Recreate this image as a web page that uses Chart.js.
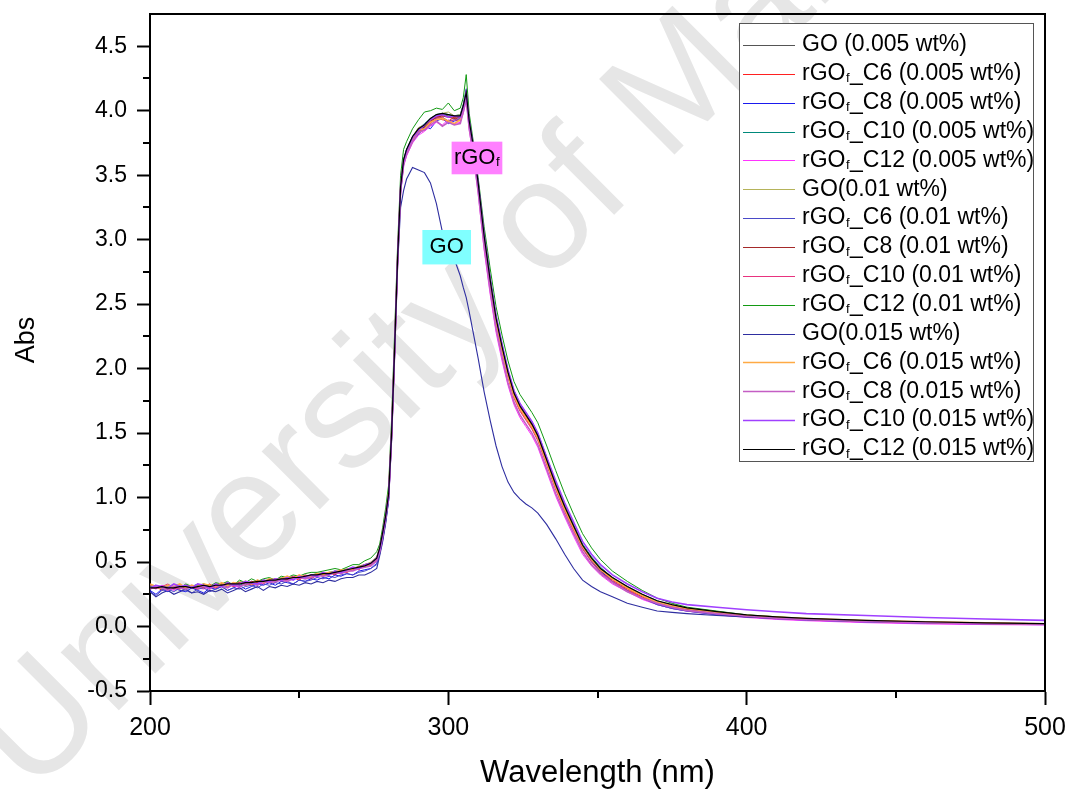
<!DOCTYPE html>
<html><head><meta charset="utf-8">
<script src="https://cdn.jsdelivr.net/npm/chart.js@4.4.1/dist/chart.umd.min.js"></script>
<style>html,body{margin:0;padding:0;background:#fff;}#wrap{width:1070px;height:789px;}</style>
</head><body><div id="wrap"><canvas id="c" width="1070" height="789"></canvas></div>
<script>
// ---------------- DATA ----------------
const WAVELENGTH = [
 200,202,204,206,208,210,212,214,216,218, 220,222,224,226,228,230,232,234,236,238,
 240,242,244,246,248,250,252,254,256,258, 260,262,264,266,268,270,272,274,276,
 277,278,279,280,281,282,283,284,285,286,
 288,290,292,294,296,298,300,302,304,305,306,307,308,309,310,
 312,314,316,318,320,322,324,326,328,330, 333,336,339,342,345,348,351,
 355,360,365,370,375,380, 390,400,410,420, 440,460,480,500];

const GO_005 = [
 .31,.30,.30,.31,.29,.30,.31,.30,.32,.31, .30,.33,.32,.31,.33,.32,.34,.33,.34,.36, .35,.36,.36,.37,.37,.38,.38,.39,.39,.40, .41,.41,.42,.44,.44,.45,.47,.48,.52,
 .60,.71,.86,1.03,1.52,2.17,2.86,3.41,3.61,3.69,
 3.79,3.85,3.88,3.93,3.94,3.97,3.96,3.95,3.96,4.03,4.12,3.91,3.77,3.61,3.43,
 3.03,2.69,2.39,2.17,1.97,1.81,1.71,1.64,1.57,1.48, 1.29,1.10,0.93,0.78,0.63,0.53,0.45, 0.37,0.30,0.24,0.19,0.16,0.135, 0.105,0.085,0.07,0.058, 0.042,0.032,0.025,0.02];
const C6_005 = [
 .29,.31,.28,.30,.31,.29,.32,.30,.29,.31, .33,.30,.32,.34,.31,.33,.35,.32,.34,.33, .36,.37,.35,.36,.38,.36,.39,.37,.40,.39, .42,.40,.43,.42,.45,.44,.48,.47,.51,
 .59,.70,.84,1.00,1.48,2.12,2.83,3.38,3.59,3.67,
 3.76,3.83,3.85,3.90,3.96,3.93,3.92,3.95,3.92,4.00,4.10,3.88,3.74,3.58,3.40,
 3.00,2.66,2.36,2.14,1.94,1.78,1.68,1.61,1.54,1.45, 1.26,1.07,0.90,0.75,0.61,0.51,0.43, 0.36,0.29,0.23,0.18,0.15,0.13, 0.10,0.08,0.065,0.055, 0.04,0.03,0.022,0.018];
const C8_005 = [
 .28,.25,.29,.27,.30,.28,.27,.30,.28,.26, .30,.29,.31,.28,.30,.32,.29,.31,.33,.32, .34,.32,.35,.34,.33,.36,.35,.37,.36,.38, .37,.40,.39,.41,.40,.43,.44,.45,.49,
 .57,.68,.82,0.99,1.46,2.11,2.82,3.37,3.60,3.70,
 3.77,3.82,3.88,3.86,3.92,3.94,3.90,3.92,3.93,4.01,4.15,3.92,3.78,3.62,3.44,
 3.04,2.70,2.40,2.18,1.98,1.82,1.72,1.65,1.57,1.48, 1.29,1.10,0.92,0.77,0.62,0.51,0.43, 0.35,0.28,0.22,0.17,0.14,0.12, 0.095,0.075,0.06,0.05, 0.035,0.025,0.018,0.014];
const C10_005 = [
 .30,.32,.30,.29,.31,.32,.30,.31,.33,.31, .32,.31,.33,.32,.34,.33,.32,.35,.34,.36, .35,.37,.36,.38,.37,.39,.38,.40,.41,.40, .42,.43,.42,.44,.45,.46,.47,.49,.53,
 .61,.73,.87,1.04,1.53,2.18,2.87,3.42,3.62,3.70,
 3.80,3.86,3.90,3.94,3.97,3.98,3.97,3.96,3.97,4.05,4.17,3.93,3.79,3.63,3.45,
 3.05,2.71,2.41,2.19,1.99,1.83,1.73,1.66,1.59,1.50, 1.31,1.12,0.95,0.79,0.64,0.54,0.46, 0.38,0.31,0.25,0.20,0.16,0.14, 0.11,0.085,0.07,0.06, 0.045,0.032,0.024,0.02];
const C12_005 = [
 .31,.29,.32,.30,.28,.31,.29,.32,.30,.29, .31,.30,.34,.31,.32,.30,.34,.33,.35,.33, .36,.34,.37,.36,.38,.37,.38,.40,.38,.41, .40,.42,.41,.43,.44,.45,.46,.48,.52,
 .59,.70,.83,1.00,1.47,2.12,2.82,3.36,3.57,3.65,
 3.75,3.81,3.84,3.88,3.91,3.89,3.93,3.90,3.91,3.98,4.08,3.85,3.70,3.54,3.36,
 2.92,2.58,2.28,2.06,1.87,1.72,1.62,1.55,1.48,1.39, 1.20,1.01,0.85,0.70,0.56,0.47,0.40, 0.33,0.27,0.21,0.17,0.14,0.12, 0.09,0.07,0.055,0.045, 0.03,0.02,0.015,0.012];
const GO_01 = [
 .30,.31,.29,.31,.30,.32,.30,.31,.31,.33, .32,.32,.33,.34,.33,.35,.34,.34,.36,.35, .37,.36,.38,.37,.39,.38,.40,.39,.41,.42, .41,.43,.43,.45,.45,.47,.48,.50,.54,
 .62,.74,.88,1.05,1.54,2.19,2.88,3.43,3.62,3.69,
 3.80,3.87,3.89,3.94,3.96,3.98,3.99,3.96,3.97,4.04,4.14,3.92,3.78,3.62,3.44,
 3.04,2.70,2.40,2.18,1.98,1.82,1.72,1.65,1.58,1.49, 1.30,1.11,0.94,0.78,0.63,0.53,0.45, 0.38,0.30,0.24,0.19,0.16,0.14, 0.11,0.085,0.07,0.06, 0.045,0.035,0.026,0.021];
const C6_01 = [
 .27,.24,.28,.29,.27,.30,.28,.26,.29,.30, .27,.29,.31,.28,.30,.29,.31,.32,.30,.33, .32,.34,.33,.35,.33,.36,.35,.36,.38,.37, .39,.38,.40,.41,.40,.42,.43,.45,.48,
 .56,.67,.81,0.98,1.46,2.10,2.81,3.36,3.58,3.67,
 3.76,3.82,3.86,3.91,3.93,3.95,3.92,3.93,3.94,4.02,4.16,3.91,3.77,3.61,3.43,
 3.03,2.69,2.39,2.17,1.97,1.81,1.71,1.64,1.56,1.47, 1.28,1.09,0.91,0.76,0.61,0.50,0.42, 0.35,0.28,0.22,0.17,0.14,0.12, 0.09,0.075,0.06,0.05, 0.035,0.026,0.02,0.016];
const C8_01 = [
 .30,.30,.31,.29,.30,.31,.30,.32,.31,.30, .32,.31,.33,.32,.33,.34,.33,.35,.34,.35, .36,.35,.37,.37,.38,.38,.39,.39,.40,.41, .41,.42,.43,.44,.45,.46,.48,.49,.53,
 .60,.72,.85,1.02,1.50,2.15,2.85,3.40,3.60,3.68,
 3.78,3.84,3.87,3.92,3.95,3.96,3.95,3.94,3.95,4.02,4.13,3.90,3.76,3.60,3.42,
 3.02,2.68,2.38,2.16,1.96,1.80,1.70,1.63,1.56,1.47, 1.28,1.09,0.92,0.77,0.62,0.52,0.44, 0.37,0.30,0.24,0.19,0.16,0.135, 0.105,0.082,0.068,0.057, 0.042,0.032,0.024,0.02];
const C10_01 = [
 .32,.30,.31,.33,.30,.29,.32,.31,.29,.32, .31,.30,.32,.33,.31,.34,.32,.33,.35,.34, .35,.37,.36,.37,.39,.37,.40,.38,.39,.41, .42,.41,.43,.42,.44,.46,.46,.48,.52,
 .59,.71,.85,1.01,1.49,2.14,2.84,3.39,3.59,3.66,
 3.77,3.83,3.86,3.90,3.94,3.95,3.91,3.93,3.92,4.00,4.11,3.89,3.75,3.59,3.41,
 2.99,2.65,2.35,2.13,1.93,1.77,1.67,1.60,1.53,1.44, 1.25,1.06,0.89,0.74,0.60,0.50,0.42, 0.35,0.28,0.22,0.18,0.15,0.125, 0.10,0.078,0.064,0.054, 0.04,0.03,0.022,0.017];
const C12_01 = [
 .31,.32,.30,.32,.31,.30,.33,.31,.32,.33, .31,.34,.33,.35,.32,.36,.34,.37,.35,.37, .38,.36,.39,.38,.40,.39,.41,.42,.42,.43, .44,.45,.44,.46,.48,.48,.51,.53,.58,
 .64,.77,.92,1.10,1.62,2.28,2.96,3.50,3.70,3.76,
 3.86,3.93,3.99,4.00,4.02,4.01,4.06,4.00,4.02,4.10,4.28,3.98,3.82,3.66,3.48,
 3.10,2.78,2.48,2.26,2.06,1.90,1.80,1.73,1.66,1.58, 1.40,1.21,1.03,0.87,0.72,0.61,0.52, 0.43,0.35,0.28,0.22,0.18,0.15, 0.12,0.09,0.075,0.06, 0.045,0.035,0.025,0.02];
const GO_015 = [
 .27,.23,.26,.28,.25,.27,.29,.26,.27,.25, .28,.27,.29,.26,.28,.30,.27,.29,.31,.28, .31,.30,.32,.31,.33,.32,.34,.33,.35,.34, .36,.35,.37,.38,.38,.40,.40,.42,.45,
 .55,.66,.80,0.98,1.45,2.10,2.80,3.25,3.38,3.47,
 3.56,3.54,3.52,3.44,3.28,3.06,2.96,2.85,2.72,2.63,2.55,2.44,2.32,2.20,2.08,
 1.82,1.60,1.40,1.24,1.12,1.04,0.99,0.95,0.92,0.88, 0.79,0.68,0.56,0.45,0.36,0.31,0.27, 0.23,0.18,0.15,0.12,0.11,0.10, 0.085,0.075,0.065,0.058, 0.045,0.035,0.028,0.022];
const C6_015 = [
 .33,.31,.30,.32,.31,.33,.30,.32,.31,.33, .32,.31,.34,.32,.34,.33,.35,.33,.36,.34, .37,.36,.37,.39,.37,.40,.38,.39,.41,.40, .42,.42,.44,.43,.45,.46,.47,.49,.53,
 .60,.72,.86,1.03,1.51,2.16,2.86,3.40,3.60,3.68,
 3.78,3.85,3.86,3.91,3.93,3.94,3.92,3.90,3.93,4.01,4.12,3.89,3.75,3.59,3.41,
 3.01,2.67,2.37,2.15,1.95,1.79,1.69,1.62,1.55,1.46, 1.27,1.08,0.91,0.76,0.62,0.52,0.44, 0.37,0.30,0.24,0.19,0.16,0.14, 0.11,0.088,0.073,0.062, 0.047,0.036,0.028,0.022];
const C8_015 = [
 .29,.31,.30,.28,.31,.30,.29,.31,.30,.31, .29,.32,.31,.30,.33,.31,.33,.34,.32,.35, .34,.35,.36,.35,.37,.38,.37,.38,.40,.39, .40,.42,.41,.43,.43,.45,.46,.47,.51,
 .58,.70,.84,1.01,1.49,2.13,2.84,3.38,3.58,3.66,
 3.76,3.83,3.85,3.89,3.92,3.88,3.91,3.89,3.90,3.99,4.09,3.86,3.72,3.55,3.37,
 2.95,2.61,2.31,2.09,1.89,1.74,1.64,1.57,1.50,1.41, 1.22,1.03,0.87,0.72,0.58,0.48,0.41, 0.34,0.27,0.22,0.18,0.15,0.125, 0.10,0.08,0.065,0.055, 0.04,0.03,0.022,0.018];
const C10_015 = [
 .30,.32,.31,.30,.33,.31,.32,.30,.33,.32, .30,.33,.31,.34,.32,.33,.35,.34,.33,.36, .35,.37,.36,.38,.36,.39,.38,.40,.39,.42, .40,.43,.42,.44,.46,.45,.48,.49,.53,
 .60,.72,.86,1.02,1.51,2.16,2.86,3.41,3.61,3.69,
 3.79,3.85,3.89,3.93,3.96,3.97,3.95,3.96,3.95,4.03,4.14,3.92,3.78,3.62,3.44,
 3.04,2.70,2.41,2.19,1.99,1.83,1.73,1.66,1.59,1.50, 1.31,1.13,0.96,0.81,0.66,0.56,0.48, 0.40,0.33,0.27,0.22,0.19,0.17, 0.15,0.13,0.115,0.10, 0.085,0.07,0.058,0.048];
const C12_015 = [
 .30,.30,.31,.30,.30,.31,.31,.30,.31,.32, .31,.32,.32,.33,.33,.33,.34,.34,.35,.35, .36,.36,.37,.37,.38,.38,.39,.40,.40,.41, .41,.42,.43,.44,.45,.46,.47,.49,.53,
 .61,.73,.86,1.03,1.51,2.16,2.86,3.41,3.62,3.70,
 3.80,3.86,3.89,3.94,3.97,3.98,3.97,3.96,3.96,4.04,4.14,3.92,3.78,3.62,3.44,
 3.03,2.69,2.39,2.17,1.97,1.81,1.71,1.64,1.57,1.48, 1.29,1.10,0.93,0.78,0.63,0.53,0.45, 0.38,0.31,0.25,0.20,0.17,0.145, 0.115,0.09,0.075,0.063, 0.048,0.037,0.029,0.023];

const SERIES_LABELS = [
 'GO (0.005 wt%)','rGOf_C6 (0.005 wt%)','rGOf_C8 (0.005 wt%)','rGOf_C10 (0.005 wt%)','rGOf_C12 (0.005 wt%)',
 'GO(0.01 wt%)','rGOf_C6 (0.01 wt%)','rGOf_C8 (0.01 wt%)','rGOf_C10 (0.01 wt%)','rGOf_C12 (0.01 wt%)',
 'GO(0.015 wt%)','rGOf_C6 (0.015 wt%)','rGOf_C8 (0.015 wt%)','rGOf_C10 (0.015 wt%)','rGOf_C12 (0.015 wt%)'];
const SERIES_VALUES = [GO_005,C6_005,C8_005,C10_005,C12_005,GO_01,C6_01,C8_01,C10_01,C12_01,GO_015,C6_015,C8_015,C10_015,C12_015];
const X_TICKS = [200,300,400,500];
const X_MINOR = [250,350,450];
const Y_TICKS = [-0.5,0,0.5,1,1.5,2,2.5,3,3.5,4,4.5];
const Y_MINOR = [-0.25,0.25,0.75,1.25,1.75,2.25,2.75,3.25,3.75,4.25];
const X_TITLE = 'Wavelength (nm)';
const Y_TITLE = 'Abs';

// ---------------- STYLE ----------------
const COLORS = ['#555555','#ff2020','#1a1aee','#00897b','#ff33ff','#b5b35a','#4a4ac8','#a52a2a','#e8337f','#139a13','#2e2ea0','#ffaa44','#c45ec4','#a040ff','#000000'];
const WIDTHS = [1,1,1,1,1,1,1,1.2,1,1,1.1,1.6,1.6,1.6,1.2];
const FONT = '"Liberation Sans", Arial, sans-serif';

SERIES_VALUES.forEach((s,i)=>{ if(s.length!==WAVELENGTH.length) console.error('length mismatch series',i,s.length); });

const datasets = SERIES_VALUES.map((vals,i)=>({
  label: SERIES_LABELS[i],
  data: vals.map((v,k)=>({x:WAVELENGTH[k], y:v})),
  borderColor: COLORS[i], backgroundColor: COLORS[i],
  borderWidth: WIDTHS[i], pointRadius: 0, tension: 0, fill: false,
  order: SERIES_VALUES.length - i
}));

function drawRichLabel(ctx, text, x, y, size){
  ctx.textAlign='left'; ctx.textBaseline='middle';
  if (text.startsWith('rGOf')) {
    ctx.font = size+'px '+FONT; ctx.fillText('rGO', x, y); x += ctx.measureText('rGO').width;
    ctx.font = Math.round(size*0.58)+'px '+FONT; ctx.fillText('f', x+0.5, y+size*0.22); x += ctx.measureText('f').width+1;
    ctx.font = size+'px '+FONT; ctx.fillText(text.slice(4), x, y);
  } else { ctx.font = size+'px '+FONT; ctx.fillText(text, x, y); }
}
function richWidth(ctx, text, size){
  if (text.startsWith('rGOf')) {
    ctx.font = size+'px '+FONT; let w = ctx.measureText('rGO').width + ctx.measureText(text.slice(4)).width;
    ctx.font = Math.round(size*0.58)+'px '+FONT; w += ctx.measureText('f').width+1; return w;
  }
  ctx.font = size+'px '+FONT; return ctx.measureText(text).width;
}

const decor = {
  id:'decor',
  beforeDraw(chart){
    const ctx = chart.ctx; ctx.save();
    ctx.fillStyle='#ffffff'; ctx.fillRect(0,0,chart.width,chart.height);
    ctx.translate(32,797); ctx.rotate(-Math.PI/4);
    ctx.fillStyle='#e6e6e6'; ctx.font='155px '+FONT; ctx.textBaseline='alphabetic'; ctx.textAlign='left';
    ctx.fillText('University of Malaya',0,0);
    ctx.restore();
  },
  afterDatasetsDraw(chart){
    const ctx = chart.ctx, xs = chart.scales.x, ys = chart.scales.y;
    const boxes = [
      {text:'rGOf', x0:301.1, x1:318.1, y0:3.507, y1:3.76, fill:'#ff80ff'},
      {text:'GO', x0:291.3, x1:307.6, y0:2.808, y1:3.075, fill:'#80ffff'}];
    ctx.save();
    boxes.forEach(b=>{
      const L=xs.getPixelForValue(b.x0), R=xs.getPixelForValue(b.x1), T=ys.getPixelForValue(b.y1), B=ys.getPixelForValue(b.y0);
      ctx.fillStyle=b.fill; ctx.fillRect(L,T,R-L,B-T);
      ctx.fillStyle='#000';
      const w = richWidth(ctx,b.text,22);
      drawRichLabel(ctx,b.text,(L+R)/2-w/2,(T+B)/2,22);
    });
    ctx.restore();
  },
  afterDraw(chart){
    const ctx = chart.ctx, a = chart.chartArea, xs = chart.scales.x, ys = chart.scales.y;
    ctx.save();
    ctx.strokeStyle='#000'; ctx.lineWidth=2;
    ctx.beginPath(); ctx.moveTo(a.left,a.top); ctx.lineTo(a.right,a.top); ctx.lineTo(a.right,a.bottom); ctx.stroke();
    ctx.beginPath();
    Y_MINOR.forEach(v=>{ const y=Math.round(ys.getPixelForValue(v)); ctx.moveTo(a.left,y); ctx.lineTo(a.left-7,y); });
    X_MINOR.forEach(v=>{ const x=Math.round(xs.getPixelForValue(v)); ctx.moveTo(x,a.bottom); ctx.lineTo(x,a.bottom+7); });
    ctx.stroke();
    // y axis title
    ctx.save(); ctx.translate(27,340); ctx.rotate(-Math.PI/2);
    ctx.fillStyle='#000'; ctx.font='27px '+FONT; ctx.textAlign='center'; ctx.textBaseline='middle';
    ctx.fillText(Y_TITLE,0,0); ctx.restore();
    // legend
    const lx0=739.5, ly0=23.5, lx1=1033.5, ly1=461.5;
    ctx.fillStyle='#fff'; ctx.fillRect(lx0,ly0,lx1-lx0,ly1-ly0);
    ctx.strokeStyle='#555'; ctx.lineWidth=1; ctx.strokeRect(lx0,ly0,lx1-lx0,ly1-ly0);
    chart.data.datasets.forEach((ds,i)=>{
      const y = 45 + i*28.85;
      ctx.strokeStyle=ds.borderColor; ctx.lineWidth=ds.borderWidth;
      ctx.beginPath(); ctx.moveTo(743,Math.round(y)+0.5); ctx.lineTo(795,Math.round(y)+0.5); ctx.stroke();
      ctx.fillStyle='#000';
      drawRichLabel(ctx, ds.label, 802, y, 23);
    });
    ctx.restore();
  }
};

new Chart(document.getElementById('c'), {
  type:'line',
  data:{datasets},
  plugins:[decor],
  options:{
    responsive:false, animation:false, devicePixelRatio:1,
    layout:{padding:{top:14,right:25,left:0,bottom:0}},
    plugins:{legend:{display:false}, tooltip:{enabled:false}},
    scales:{
      x:{type:'linear', min:200, max:500,
        afterBuildTicks:s=>{ s.ticks = X_TICKS.map(v=>({value:v})); },
        afterFit:s=>{ s.height = 98; s.paddingLeft = 0; s.paddingRight = 0; },
        ticks:{font:{size:25,family:FONT}, color:'#000', padding:8, maxRotation:0, autoSkip:false, callback:v=>String(v)},
        grid:{drawOnChartArea:false, drawTicks:true, tickLength:14, tickWidth:2, tickColor:'#000'},
        border:{display:true, color:'#000', width:2},
        title:{display:true, text:X_TITLE, color:'#000', font:{size:31,family:FONT}, padding:{top:0,bottom:-3}}
      },
      y:{type:'linear', min:-0.5, max:4.75,
        afterBuildTicks:s=>{ s.ticks = Y_TICKS.map(v=>({value:v})); },
        afterFit:s=>{ s.width = 150; s.paddingTop = 0; s.paddingBottom = 0; },
        ticks:{font:{size:23,family:FONT}, color:'#000', padding:10, autoSkip:false, callback:v=>v.toFixed(1)},
        grid:{drawOnChartArea:false, drawTicks:true, tickLength:13, tickWidth:2, tickColor:'#000'},
        border:{display:true, color:'#000', width:2},
        title:{display:false}
      }
    }
  }
});
</script></body></html>
